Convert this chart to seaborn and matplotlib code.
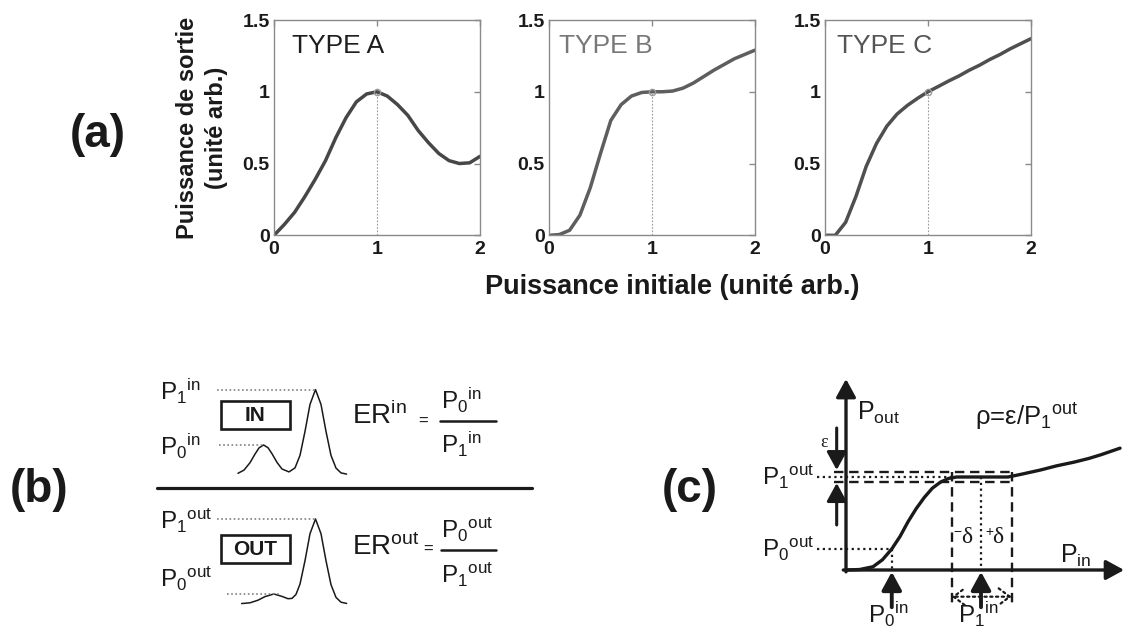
import numpy as np
import pandas as pd
import matplotlib
matplotlib.use("Agg")
import matplotlib.pyplot as plt
import seaborn as sns
from matplotlib.patches import Rectangle

sns.set_theme(style="white")
plt.rcParams['font.family'] = ['Liberation Sans', 'DejaVu Sans']
plt.rcParams['mathtext.fontset'] = 'custom'
plt.rcParams['mathtext.rm'] = 'Liberation Sans'
plt.rcParams['mathtext.it'] = 'Liberation Sans:italic'
plt.rcParams['mathtext.bf'] = 'Liberation Sans:bold'
plt.rcParams['mathtext.default'] = 'regular'

# ---------------- (a) data: transfer functions ----------------
p_in = [0.0, 0.1, 0.2, 0.3, 0.4, 0.5, 0.6, 0.7, 0.8, 0.9, 1.0,
        1.1, 1.2, 1.3, 1.4, 1.5, 1.6, 1.7, 1.8, 1.9, 2.0]
type_a = [0.0, 0.075, 0.16, 0.27, 0.39, 0.52, 0.68, 0.82, 0.93, 0.985, 1.0,
          0.97, 0.91, 0.835, 0.73, 0.645, 0.57, 0.52, 0.50, 0.505, 0.55]
type_b = [0.0, 0.005, 0.035, 0.14, 0.33, 0.57, 0.80, 0.91, 0.97, 0.995, 1.0,
          1.0, 1.005, 1.025, 1.06, 1.105, 1.15, 1.19, 1.23, 1.26, 1.29]
type_c = [0.0, 0.0, 0.09, 0.27, 0.48, 0.64, 0.76, 0.845, 0.905, 0.955, 1.0,
          1.037, 1.075, 1.11, 1.15, 1.185, 1.225, 1.26, 1.30, 1.335, 1.37]
panel_titles = ["TYPE A", "TYPE B", "TYPE C"]
x_ticks = [0, 1, 2]
x_tick_labels = ["0", "1", "2"]
y_ticks = [0, 0.5, 1, 1.5]
y_tick_labels = ["0", "0.5", "1", "1.5"]
operating_point = (1.0, 1.0)

# ---------------- (b) data: pulse trains (schematic) ----------------
pulse_in_x = [238, 244, 250, 255, 259, 263.6, 268, 272, 277, 282, 289, 295, 300,
              305, 310, 315.5, 321, 326, 331, 336, 341, 346.6]
pulse_in_h = [1.1, 4.3, 11.7, 20.3, 26.5, 29.4, 26.7, 20.7, 12, 5.4, 2.5, 6.5, 19,
              43, 70, 84.8, 70, 43, 19, 6.3, 1.5, 0.3]
pulse_out_x = [241.6, 250, 258, 265, 273.8, 282, 288, 292, 296, 300, 305, 310,
               315.5, 321, 326, 331, 336, 341, 346.6]
pulse_out_h = [0.15, 0.9, 3.5, 7.1, 9.7, 7.3, 5.0, 5.3, 9.3, 19.6, 43, 70,
               84.7, 70, 43, 19, 6.3, 1.5, 0.3]

# ---------------- (c) data: schematic transfer curve ----------------
c_pin = [0.0, 0.1, 0.2, 0.27, 0.339, 0.4, 0.46, 0.52, 0.58, 0.64, 0.70, 0.76,
         0.82, 1.0, 1.2, 1.3, 1.44, 1.56, 1.69, 1.8, 1.89, 2.03]
c_pout = [0.0, 0.005, 0.035, 0.11, 0.226, 0.36, 0.52, 0.66, 0.78, 0.88, 0.945,
          0.985, 1.0, 1.0, 1.0, 1.03, 1.075, 1.12, 1.16, 1.2, 1.24, 1.31]
P0_in, P1_in = 0.339, 1.0
P0_out, P1_out = 0.226, 1.0
eps_hi, eps_lo = 1.057, 0.949
delta_lo, delta_hi = 0.783, 1.227

W, H = 1123, 630
fig = plt.figure(figsize=(W / 100, H / 100), dpi=100)
TXT = "#1a1a1a"

# overlay axis in pixel units for labels and panel (b)
ov = fig.add_axes([0, 0, 1, 1])
ov.set_xlim(0, W)
ov.set_ylim(H, 0)
ov.axis("off")
ov.patch.set_alpha(0)

# ---------------- panel (a) ----------------
lefts = [274, 549, 825]
series = [type_a, type_b, type_c]
line_colors = ["#474747", "#5e5e5e", "#4f4f4f"]
title_colors = ["#1e1e1e", "#787878", "#555555"]
title_x = [0.172, 0.10, 0.113]
for i in range(3):
    ax = fig.add_axes([lefts[i] / W, (H - 235.3) / H, 206 / W, 215.3 / H])
    df = pd.DataFrame({"Pin": p_in, "Pout": series[i]})
    sns.lineplot(data=df, x="Pin", y="Pout", ax=ax, color=line_colors[i], lw=2.5,
                 sort=False)
    ax.plot([operating_point[0], operating_point[0]], [0, operating_point[1]],
            color="#9a9a9a", lw=0.8, ls=(0, (1.5, 1.5)), zorder=1)
    ax.plot([operating_point[0]], [operating_point[1]], marker="o", ms=4.5,
            mfc="none", mec="#9a9a9a", mew=1.0, zorder=3)
    ax.set_xlim(0, 2)
    ax.set_ylim(0, 1.5)
    ax.set_xticks(x_ticks)
    ax.set_xticklabels(x_tick_labels, fontweight="bold", fontsize=14, color=TXT)
    ax.set_yticks(y_ticks)
    ax.set_yticklabels(y_tick_labels, fontweight="bold", fontsize=14, color=TXT)
    ax.set_xlabel("")
    ax.set_ylabel("")
    ax.tick_params(direction="in", length=4, width=1, color="#8a8a8a",
                   top=True, right=True, pad=3)
    ax.tick_params(axis="x", pad=4)
    for s in ax.spines.values():
        s.set_color("#8a8a8a")
        s.set_linewidth(1.0)
    ax.text(title_x[i], 1.32, panel_titles[i], fontsize=19, color=title_colors[i],
            ha="left", va="center")

ov.text(202, 128, "Puissance de sortie\n(unité arb.)", rotation=90, ha="center",
        va="center", fontsize=17, fontweight="bold", color=TXT, linespacing=1.3,
        multialignment="center")
ov.text(672, 294, "Puissance initiale (unité arb.)", ha="center", va="baseline",
        fontsize=19.5, fontweight="bold", color=TXT)

# panel labels
ov.text(98, 135, "(a)", ha="center", va="center", fontsize=33, fontweight="bold", color=TXT)
ov.text(39, 490, "(b)", ha="center", va="center", fontsize=33, fontweight="bold", color=TXT)
ov.text(690, 490, "(c)", ha="center", va="center", fontsize=33, fontweight="bold", color=TXT)

# ---------------- panel (b) ----------------
base_in, base_out = 474.4, 603.7
ov.plot(pulse_in_x, [base_in - h for h in pulse_in_h], color="k", lw=1.1)
ov.plot(pulse_out_x, [base_out - h for h in pulse_out_h], color="k", lw=1.1)
dot_gray = dict(color="#808080", lw=1.2, ls=(0, (1, 1.5)))
ov.plot([217, 315.5], [base_in - max(pulse_in_h)] * 2, **dot_gray)
ov.plot([218.6, 263.6], [base_in - 29.4] * 2, **dot_gray)
ov.plot([217, 315.5], [base_out - max(pulse_out_h)] * 2, **dot_gray)
ov.plot([227, 280], [base_out - 9.7] * 2, **dot_gray)
ov.plot([157, 532], [487.5, 487.5], color="k", lw=2.3)
for y0, lab in [(401, "IN"), (535, "OUT")]:
    ov.add_patch(Rectangle((221, y0), 69, 28, fill=False, ec="k", lw=1.9))
    ov.text(255.5, y0 + 14.5, lab, ha="center", va="center", fontsize=15,
            fontweight="bold", color=TXT)
FS = 17.5
ov.text(160.3, 400.5, r"P$_1{}^{in}$", fontsize=FS, va="baseline", color=TXT)
ov.text(160.3, 455, r"P$_0{}^{in}$", fontsize=FS, va="baseline", color=TXT)
ov.text(160.3, 529, r"P$_1{}^{out}$", fontsize=FS, va="baseline", color=TXT)
ov.text(160.3, 587, r"P$_0{}^{out}$", fontsize=FS, va="baseline", color=TXT)
ov.text(352, 424, r"ER$^{in}$", fontsize=20, va="baseline", color=TXT)
ov.text(352, 554.6, r"ER$^{out}$", fontsize=20, va="baseline", color=TXT)
ov.text(423, 421, "=", fontsize=12, ha="center", va="center", color=TXT)
ov.text(428, 549.5, "=", fontsize=12, ha="center", va="center", color=TXT)
ov.plot([440, 496], [420.8, 420.8], color="k", lw=1.8)
ov.plot([441, 496], [549.5, 549.5], color="k", lw=1.8)
ov.text(441, 409, r"P$_0{}^{in}$", fontsize=FS, va="baseline", color=TXT)
ov.text(441, 453, r"P$_1{}^{in}$", fontsize=FS, va="baseline", color=TXT)
ov.text(441, 538, r"P$_0{}^{out}$", fontsize=FS, va="baseline", color=TXT)
ov.text(441, 583.5, r"P$_1{}^{out}$", fontsize=FS, va="baseline", color=TXT)

# ---------------- panel (c) ----------------
axc = fig.add_axes([740 / W, 0, (W - 740) / W, 260 / H])
axc.axis("off")
axc.patch.set_alpha(0)

def arrow(ax, start, tip, lw=2.4, hl=0.55, hw=0.3):
    ax.annotate("", xy=tip, xytext=start,
                arrowprops=dict(arrowstyle=f"-|>,head_length={hl},head_width={hw}",
                                lw=lw, color="k", shrinkA=0, shrinkB=0,
                                mutation_scale=20), annotation_clip=False)

sns.lineplot(x=c_pin, y=c_pout, ax=axc, color="k", lw=2.4, sort=False)
axc.set_xlim((740 - 846) / 135, (W - 846) / 135)
axc.set_ylim((570 - 630) / 93, (570 - 370) / 93)
arrow(axc, (0, -0.02), (0, 2.054))
arrow(axc, (-0.02, 0), (2.06, 0))

dash = dict(color="k", lw=1.7, ls=(0, (4, 2.4)))
dot = dict(color="k", lw=1.6, ls=(0, (1, 1.6)))
axc.plot([-0.09, delta_hi], [eps_hi, eps_hi], **dash)
axc.plot([-0.09, delta_hi], [eps_lo, eps_lo], **dash)
axc.plot([-0.215, 0.80], [P1_out, P1_out], **dot)
axc.plot([delta_lo, delta_lo], [eps_hi, -0.376], **dash)
axc.plot([delta_hi, delta_hi], [eps_hi, -0.376], **dash)
axc.plot([P1_in, P1_in], [P1_out, 0], **dot)
axc.plot([P0_in, P0_in], [P0_out, 0], **dot)
axc.plot([-0.215, P0_in], [P0_out, P0_out], **dot)
arrow(axc, (P0_in, -0.40), (P0_in, -0.02), lw=2.8)
arrow(axc, (P1_in, -0.40), (P1_in, -0.02), lw=2.8)
arrow(axc, (-0.069, 1.527), (-0.069, 1.075), lw=2.2)
arrow(axc, (-0.069, 0.484), (-0.069, 0.935), lw=2.2)
axc.annotate("", xy=(delta_lo, -0.287), xytext=(delta_hi, -0.287),
             arrowprops=dict(arrowstyle="<->,head_length=0.4,head_width=0.3",
                             lw=1.6, ls=(0, (1, 1.6)), color="k", shrinkA=0,
                             shrinkB=0, mutation_scale=20), annotation_clip=False)

axc.text(0.08, 1.613, r"P$_{out}$", fontsize=18, va="baseline", color=TXT)
axc.text(0.955, 1.56, r"ρ=ε/P$_1{}^{out}$", fontsize=18.5, va="baseline", color=TXT)
axc.text(-0.163, 1.366, "ε", fontsize=13, ha="center", va="center", color=TXT,
         family="Liberation Serif")
axc.text(-0.622, 0.914, r"P$_1{}^{out}$", fontsize=FS, va="baseline", color=TXT)
axc.text(-0.622, 0.14, r"P$_0{}^{out}$", fontsize=FS, va="baseline", color=TXT)
axc.text(1.585, 0.075, r"P$_{in}$", fontsize=18, va="baseline", color=TXT)
axc.text(0.163, -0.57, r"P$_0{}^{in}$", fontsize=17.5, va="baseline", color=TXT)
axc.text(0.83, -0.57, r"P$_1{}^{in}$", fontsize=17.5, va="baseline", color=TXT)
axc.text(0.825, 0.41, "−", fontsize=10, ha="center", va="center", color=TXT)
axc.text(0.852, 0.287, "δ", fontsize=17, va="baseline", color=TXT,
         family="Liberation Serif")
axc.text(1.059, 0.41, "+", fontsize=10, ha="center", va="center", color=TXT)
axc.text(1.084, 0.287, "δ", fontsize=17, va="baseline", color=TXT,
         family="Liberation Serif")

fig.savefig("out.png", dpi=100)
